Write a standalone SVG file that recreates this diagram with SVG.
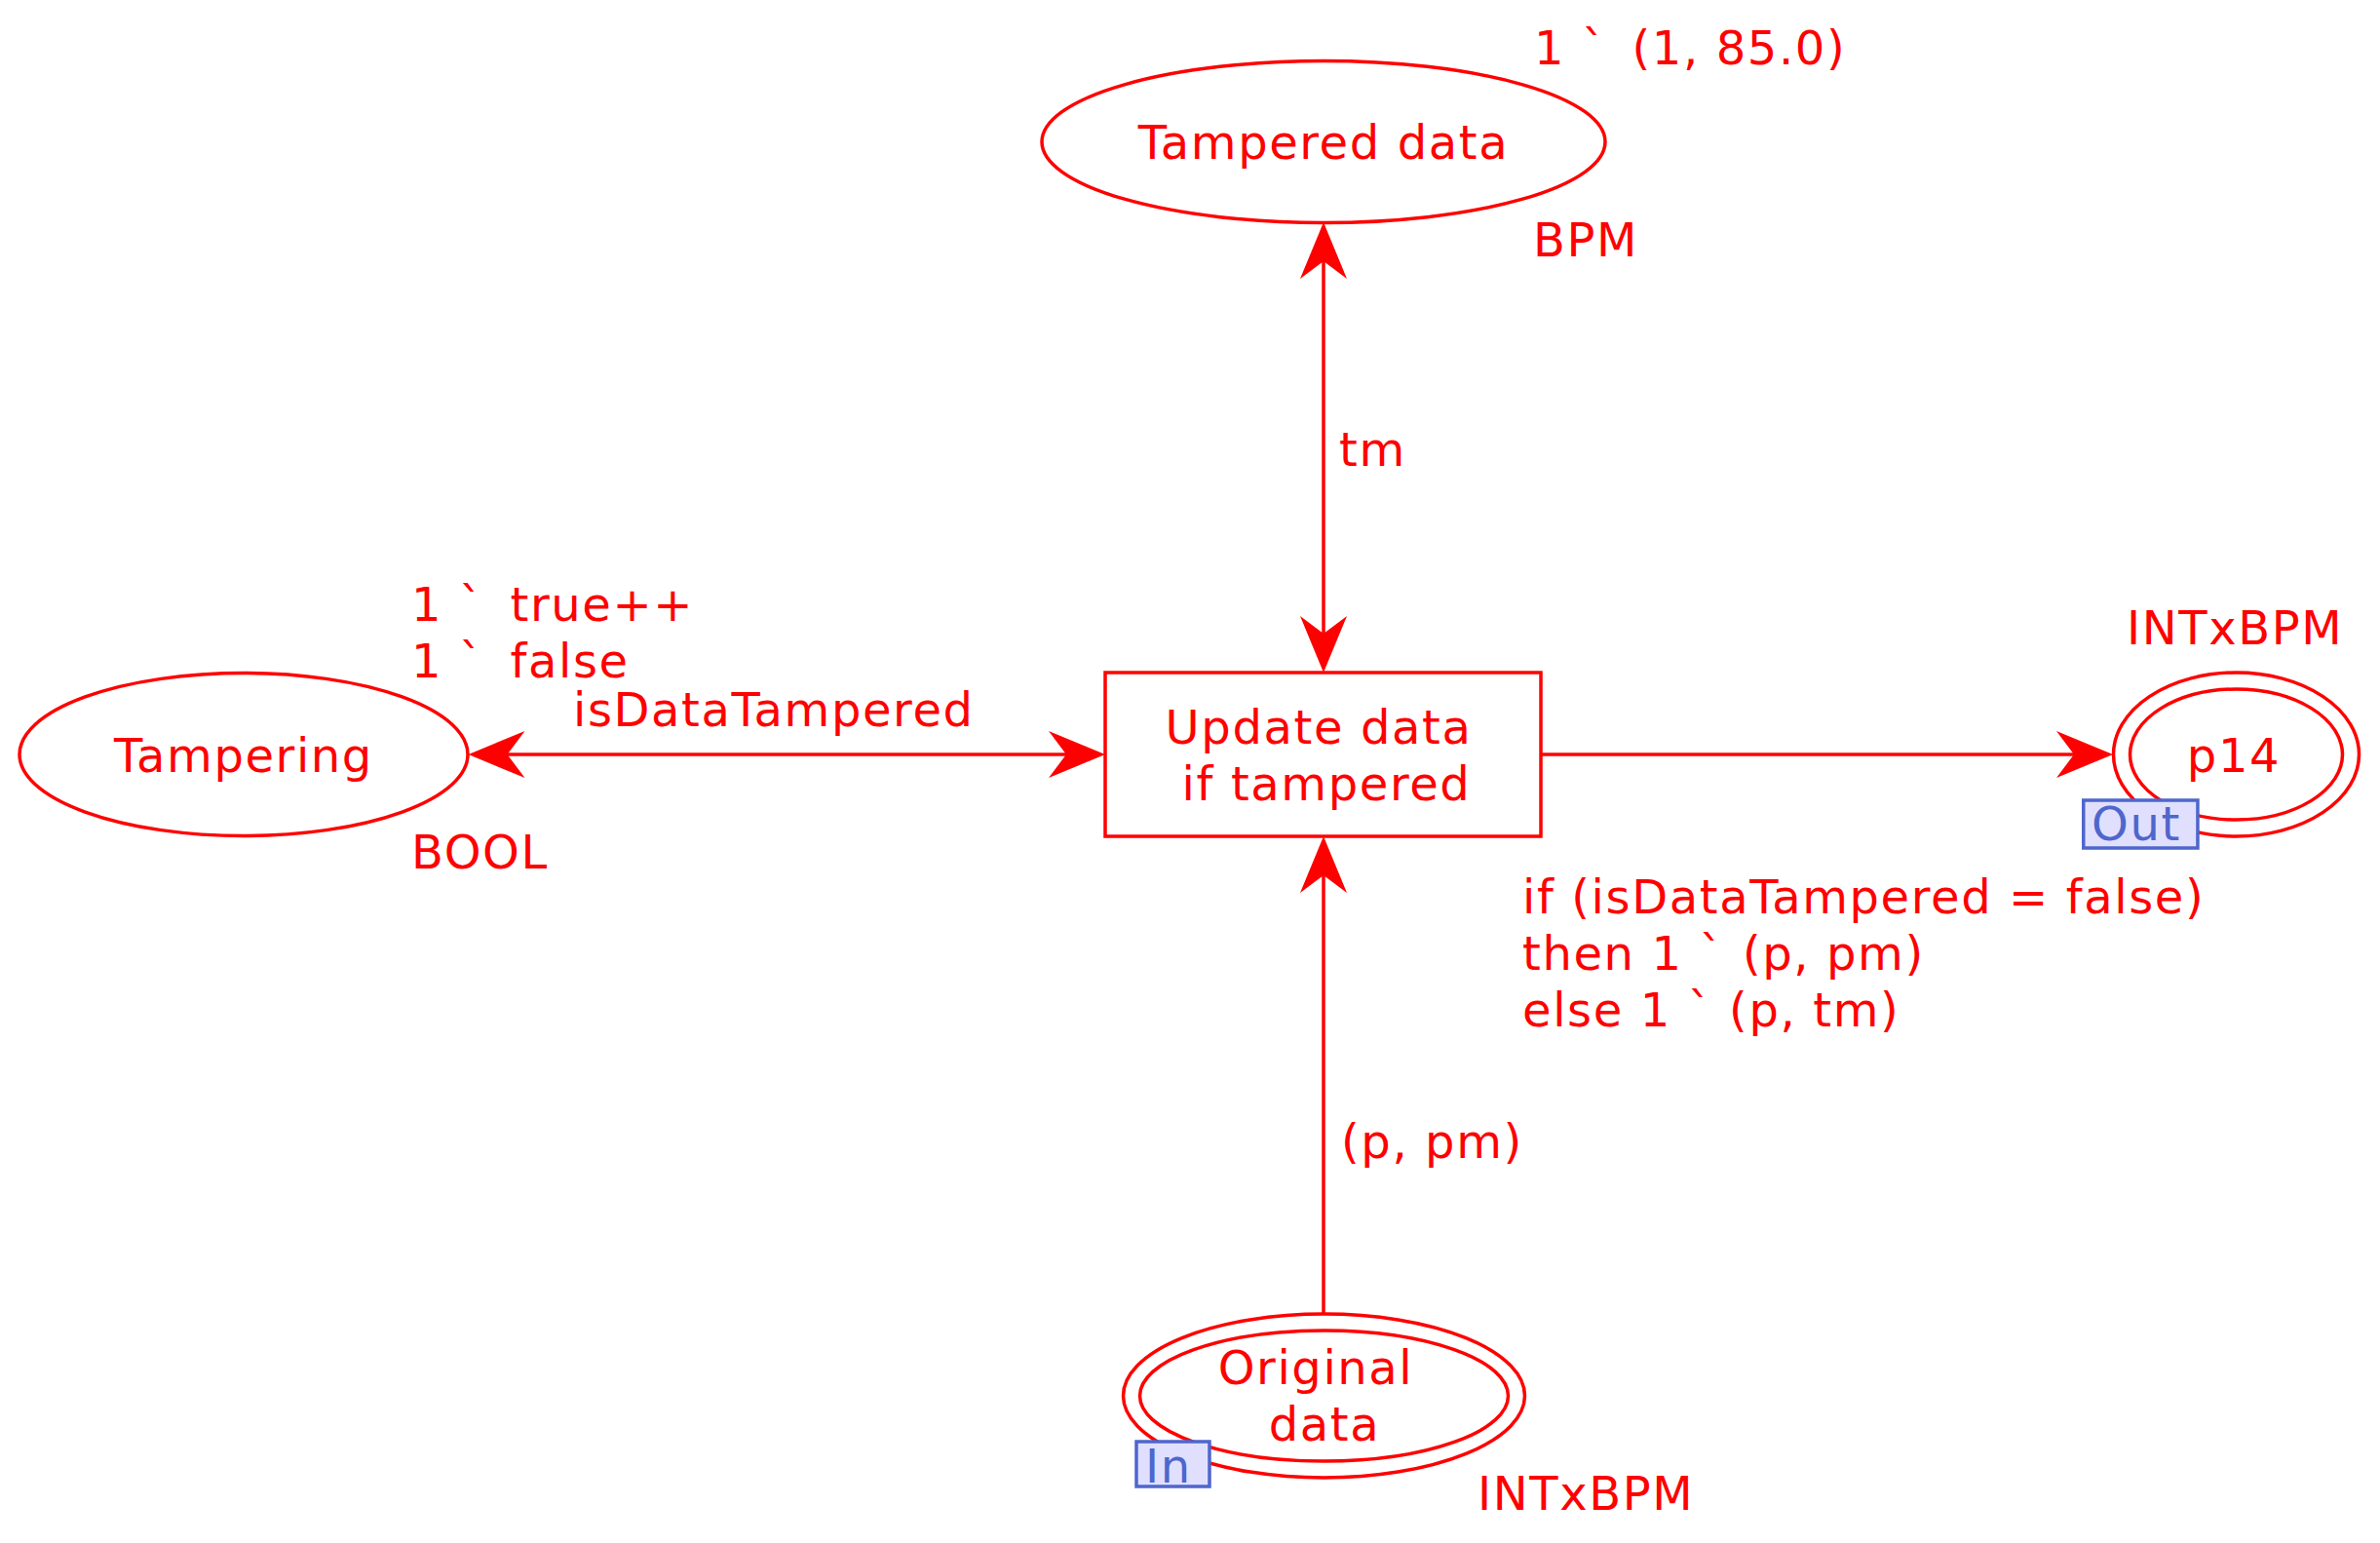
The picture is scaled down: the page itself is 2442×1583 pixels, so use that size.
<svg xmlns="http://www.w3.org/2000/svg" width="2442" height="1583" viewBox="0 0 2442 1583">
<style>
  text { font-family: "DejaVu Sans", "Liberation Sans", sans-serif; font-size: 48px; fill: #ff0000; letter-spacing: 1.6px; }
  .mid { text-anchor: middle; }
  .shape { fill: none; stroke: #ff0000; stroke-width: 3.5; }
  .conn { fill: none; stroke: #ff0000; stroke-width: 3.5; }
  .tag { fill: #e0e0fe; stroke: #4f66cc; stroke-width: 3.5; }
  .tagtext { fill: #4f66cc; }
</style>
<defs>
  <marker id="ah" markerUnits="userSpaceOnUse" markerWidth="80" markerHeight="60" refX="0" refY="0" orient="auto-start-reverse" overflow="visible" viewBox="-40 -30 80 60">
    <path d="M20,0 L-38,-24 L-20,0 L-38,24 Z" fill="#ff0000"/>
  </marker>
</defs>
<rect width="2442" height="1583" fill="#ffffff"/>

<g id="connectors">
  <line class="conn" x1="1358" y1="248" x2="1358" y2="670" marker-start="url(#ah)" marker-end="url(#ah)"/>
  <line class="conn" x1="500.5" y1="774" x2="1114" y2="774" marker-start="url(#ah)" marker-end="url(#ah)"/>
  <line class="conn" x1="1581" y1="774" x2="2148" y2="774" marker-end="url(#ah)"/>
  <line class="conn" x1="1358" y1="1348" x2="1358" y2="878" marker-end="url(#ah)"/>
  <text x="1374" y="478">tm</text>
  <text x="588" y="745">isDataTampered</text>
  <text x="1376" y="1188">(p, pm)</text>
  <text x="1562" y="937">if (isDataTampered = false)</text>
  <text x="1562" y="995">then 1 ` <tspan dx="2">(p, pm)</tspan></text>
  <text x="1562" y="1053">else 1 ` (p, tm)</text>
</g>

<g id="tampered-data">
  <ellipse class="shape" cx="1358" cy="145.5" rx="289" ry="83"/>
  <text class="mid" x="1358" y="163">Tampered data</text>
  <text x="1574" y="66">1 ` <tspan dx="9">(1, 85.0)</tspan></text>
  <text x="1573" y="263">BPM</text>
</g>

<g id="tampering">
  <ellipse class="shape" cx="250" cy="774" rx="230" ry="83.5"/>
  <text class="mid" x="250" y="792">Tampering</text>
  <text x="422" y="637">1 ` <tspan dx="10">true++</tspan></text>
  <text x="422" y="695">1 ` <tspan dx="10">false</tspan></text>
  <text x="422" y="891">BOOL</text>
</g>

<g id="update-data">
  <rect class="shape" x="1134" y="690" width="447" height="168"/>
  <text class="mid" x="1353" y="763">Update data</text>
  <text class="mid" x="1361" y="821">if tampered</text>
</g>

<g id="p14">
  <ellipse class="shape" cx="2294.5" cy="774" rx="126" ry="84"/>
  <ellipse class="shape" cx="2294.5" cy="774" rx="109" ry="67"/>
  <text class="mid" x="2292" y="792">p14</text>
  <text x="2182" y="661">INTxBPM</text>
  <rect class="tag" x="2137.75" y="821" width="117.2" height="49"/>
  <text class="tagtext" x="2146" y="862">Out</text>
</g>

<g id="original-data">
  <ellipse class="shape" cx="1358.5" cy="1432" rx="206" ry="84"/>
  <ellipse class="shape" cx="1358.5" cy="1432" rx="189" ry="67"/>
  <text class="mid" x="1350" y="1420">Original</text>
  <text class="mid" x="1359" y="1478">data</text>
  <text x="1516" y="1549">INTxBPM</text>
  <rect class="tag" x="1166" y="1479" width="75" height="46"/>
  <text class="tagtext" x="1175" y="1521">In</text>
</g>
</svg>
